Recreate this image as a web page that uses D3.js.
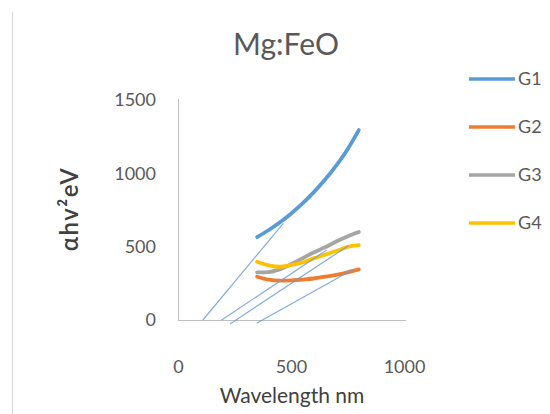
<!DOCTYPE html>
<html>
<head>
<meta charset="utf-8">
<script src="https://cdn.jsdelivr.net/npm/d3@7/dist/d3.min.js"></script>
<style>
  html, body { margin: 0; padding: 0; background: #fff; }
  svg { display: block; font-family: Lato, "Open Sans", sans-serif; }
</style>
</head>
<body>
<svg id="chart" width="550" height="414"></svg>
<script>
// Wavelength samples (nm)
const wavelength = [350, 400, 450, 500, 550, 600, 650, 700, 750, 800];

// (αhν)² values per sample
const seriesNames = ["G1", "G2", "G3", "G4"];
const g1 = [565, 612, 665, 725, 793, 870, 956, 1053, 1163, 1295];
const g2 = [295, 275, 268, 270, 276, 283, 295, 308, 325, 345];
const g3 = [325, 327, 345, 380, 420, 460, 495, 535, 570, 600];
const g4 = [397, 373, 363, 375, 392, 420, 445, 470, 498, 510];
const seriesColors = ["#5B9BD5", "#ED7D31", "#A5A5A5", "#FFC000"];

// Linear extrapolation (tangent) lines: start and end points in data units
const tanX0 = [110, 193, 230, 348];
const tanY0 = [0, 0, -27, -22];
const tanX1 = [466, 658, 754, 776];
const tanY1 = [659, 477, 507, 346];

// Axis ticks
const xTicks = [0, 500, 1000];
const yTicks = [0, 500, 1000, 1500];

const series = [g1, g2, g3, g4].map((vals, i) => ({
  name: seriesNames[i],
  color: seriesColors[i],
  points: wavelength.map((w, j) => [w, vals[j]])
}));

const svg = d3.select("#chart");

// chart area frame edge
svg.append("line")
  .attr("x1", 12.5).attr("x2", 12.5)
  .attr("y1", 12).attr("y2", 414)
  .attr("stroke", "#d9d9d9").attr("stroke-width", 1);

const x = d3.scaleLinear().domain([0, 1000]).range([178, 404]);
const y = d3.scaleLinear().domain([0, 1500]).range([320, 100]);

// axes
const xAxis = svg.append("g").attr("transform", `translate(0,${y(0)})`)
  .call(d3.axisBottom(x).tickValues(xTicks).tickSize(0).tickPadding(40).tickFormat(d3.format("d")));
xAxis.select(".domain").attr("stroke", "#bfbfbf").attr("d", `M${x(0)},0.5H406`);
xAxis.selectAll("text").attr("font-size", 18).attr("fill", "#595959")
  .attr("font-family", "Lato, sans-serif");

const yAxis = svg.append("g").attr("transform", `translate(${x(0)},0)`)
  .call(d3.axisLeft(y).tickValues(yTicks).tickSize(0).tickPadding(22).tickFormat(d3.format("d")));
yAxis.select(".domain").attr("stroke", "#bfbfbf").attr("d", `M0.5,${y(1500) - 1}V${y(0)}`);
yAxis.selectAll("text").attr("font-size", 18).attr("fill", "#595959")
  .attr("font-family", "Lato, sans-serif");

// data lines
const line = d3.line()
  .x(d => x(d[0]))
  .y(d => y(d[1]))
  .curve(d3.curveMonotoneX);

svg.append("g").selectAll("path")
  .data(series)
  .join("path")
  .attr("d", d => line(d.points))
  .attr("fill", "none")
  .attr("stroke", d => d.color)
  .attr("stroke-width", 3.8)
  .attr("stroke-linecap", "round");

// tangent lines
svg.append("g").selectAll("line")
  .data(tanX0.map((v, i) => i))
  .join("line")
  .attr("x1", i => x(tanX0[i]))
  .attr("y1", i => y(tanY0[i]))
  .attr("x2", i => x(tanX1[i]))
  .attr("y2", i => y(tanY1[i]))
  .attr("stroke", "#6f9fd6")
  .attr("stroke-width", 1.2)
  .attr("opacity", 0.85);

// title
svg.append("text")
  .attr("x", 286).attr("y", 55)
  .attr("text-anchor", "middle")
  .attr("font-size", 30)
  .attr("fill", "#595959")
  .text("Mg:FeO");

// axis titles
svg.append("text")
  .attr("x", 292).attr("y", 403)
  .attr("text-anchor", "middle")
  .attr("font-size", 21)
  .attr("fill", "#404040")
  .text("Wavelength nm");

svg.append("text")
  .attr("transform", "translate(78,209) rotate(-90)")
  .attr("text-anchor", "middle")
  .attr("font-size", 24)
  .attr("font-weight", 600)
  .attr("letter-spacing", 1.5)
  .attr("fill", "#404040")
  .text("αhv²eV");

// legend
const legend = svg.append("g").selectAll("g")
  .data(series)
  .join("g")
  .attr("transform", (d, i) => `translate(0,${79 + i * 48})`);
legend.append("line")
  .attr("x1", 469).attr("x2", 515)
  .attr("stroke", d => d.color)
  .attr("stroke-width", 3.5);
legend.append("text")
  .attr("x", 518).attr("y", 0)
  .attr("dy", "0.35em")
  .attr("font-size", 18)
  .attr("fill", "#595959")
  .text(d => d.name);
</script>
</body>
</html>
